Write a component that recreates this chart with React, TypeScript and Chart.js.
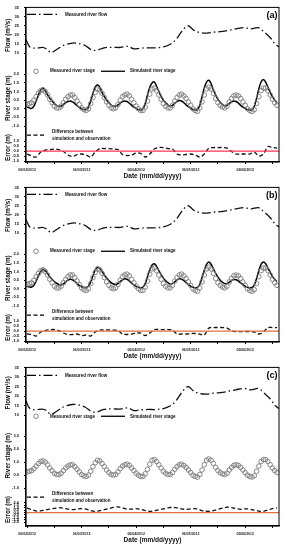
import React, { useEffect, useRef } from 'react';
import { Chart, registerables } from 'chart.js';

Chart.register(...registerables);

const FONT = '"Liberation Sans", Arial, sans-serif';

// ---------- data ----------
const dateLabels = ['06/02/2012', '06/03/2012', '06/04/2012', '06/05/2012', '06/06/2012'];
const xTickDays = [0, 0.5, 1, 1.5, 2, 2.5, 3, 3.5, 4, 4.5];

// Measured river flow (m3/s), x in days since 06/02/2012
const flowDays = [-0.02, 0.05, 0.15, 0.28, 0.35, 0.44, 0.55, 0.68, 0.83, 0.94, 1.06, 1.19, 1.28, 1.41, 1.56, 1.71, 1.85, 1.96, 2.07, 2.22, 2.37, 2.5, 2.62, 2.73, 2.84, 2.95, 3.06, 3.17, 3.3, 3.41, 3.54, 3.69, 3.83, 3.98, 4.11, 4.24, 4.35, 4.46, 4.55, 4.62];
const flowValues = [17.5, 13.5, 12.8, 13.2, 12.5, 10.5, 12.2, 14.5, 15.6, 15.4, 14.3, 11.8, 11.7, 13.0, 13.3, 13.2, 13.8, 12.4, 12.8, 13.0, 13.0, 13.5, 14.8, 17.5, 22, 25, 22.5, 21.3, 21.0, 21.5, 21.8, 22.5, 23.3, 24.0, 23.3, 24.0, 21.5, 18.5, 15.0, 13.5];

// Hourly measured river stage (m), hour 0 = 06/02/2012 00:00
const measuredStage = [
  0.25, 0.3, 0.35, 0.5, 0.7, 0.9, 1.05, 1.1, 1.0, 0.8, 0.55, 0.35, 0.15, 0.05, 0.05, 0.15, 0.35, 0.55, 0.7, 0.8, 0.8, 0.65, 0.45, 0.25,
  0.05, -0.05, -0.1, 0.0, 0.3, 0.65, 0.95, 1.15, 1.1, 0.9, 0.65, 0.4, 0.2, 0.05, 0.0, 0.05, 0.25, 0.5, 0.7, 0.8, 0.85, 0.75, 0.55, 0.35,
  0.15, 0.0, -0.1, -0.1, 0.1, 0.45, 0.85, 1.15, 1.2, 1.05, 0.8, 0.55, 0.3, 0.15, 0.05, 0.05, 0.2, 0.45, 0.65, 0.8, 0.85, 0.75, 0.6, 0.4,
  0.2, 0.0, -0.1, -0.15, 0.05, 0.4, 0.8, 1.15, 1.25, 1.15, 0.9, 0.6, 0.35, 0.2, 0.1, 0.05, 0.15, 0.4, 0.6, 0.75, 0.8, 0.75, 0.6, 0.4,
  0.2, 0.0, -0.1, -0.15, -0.05, 0.3, 0.7, 1.05, 1.2, 1.2, 1.05, 0.8, 0.55, 0.35, 0.2,
];

// Hourly simulated river stage (m), panel (a)
const simStageA = [
  0.1, 0.05, 0.02, 0.15, 0.45, 0.8, 1.1, 1.2, 1.05, 0.8, 0.6, 0.45, 0.3, 0.2, 0.15, 0.15, 0.25, 0.35, 0.42, 0.45, 0.4, 0.3, 0.18, 0.08,
  0.0, -0.05, -0.05, 0.1, 0.45, 0.9, 1.25, 1.4, 1.25, 0.95, 0.7, 0.5, 0.35, 0.22, 0.15, 0.15, 0.22, 0.33, 0.42, 0.45, 0.42, 0.32, 0.2, 0.1,
  0.02, -0.05, -0.08, 0.0, 0.3, 0.8, 1.25, 1.5, 1.55, 1.3, 1.0, 0.72, 0.5, 0.35, 0.22, 0.15, 0.2, 0.32, 0.42, 0.48, 0.45, 0.35, 0.22, 0.12,
  0.03, -0.05, -0.08, -0.05, 0.2, 0.7, 1.2, 1.55, 1.65, 1.45, 1.1, 0.8, 0.55, 0.38, 0.25, 0.18, 0.2, 0.3, 0.4, 0.45, 0.42, 0.33, 0.2, 0.1,
  0.02, -0.05, -0.08, -0.05, 0.15, 0.6, 1.15, 1.55, 1.7, 1.55, 1.25, 0.95, 0.7, 0.5, 0.35,
];

// Hourly simulated river stage (m), panel (b)
const simStageB = [
  0.15, 0.1, 0.1, 0.2, 0.45, 0.75, 1.0, 1.13, 1.05, 0.88, 0.7, 0.55, 0.42, 0.32, 0.25, 0.22, 0.28, 0.4, 0.5, 0.55, 0.52, 0.42, 0.3, 0.2,
  0.12, 0.08, 0.08, 0.15, 0.4, 0.75, 1.1, 1.25, 1.18, 1.0, 0.8, 0.62, 0.48, 0.36, 0.28, 0.25, 0.3, 0.42, 0.52, 0.58, 0.55, 0.45, 0.33, 0.22,
  0.14, 0.08, 0.05, 0.1, 0.3, 0.7, 1.1, 1.38, 1.45, 1.3, 1.05, 0.82, 0.62, 0.46, 0.35, 0.28, 0.3, 0.4, 0.52, 0.58, 0.56, 0.47, 0.35, 0.24,
  0.15, 0.08, 0.05, 0.08, 0.25, 0.65, 1.08, 1.42, 1.55, 1.42, 1.15, 0.9, 0.68, 0.5, 0.38, 0.3, 0.3, 0.38, 0.48, 0.53, 0.52, 0.45, 0.34, 0.24,
  0.15, 0.08, 0.05, 0.08, 0.22, 0.6, 1.05, 1.42, 1.55, 1.45, 1.2, 0.95, 0.72, 0.55, 0.42,
];

// 2-hourly difference between simulation and observation (m)
const errorA = [
  -0.3, -0.5, -0.6, -0.1, 0.1, 0.15, 0.2, 0.15, -0.05, -0.4, -0.55, -0.35,
  -0.3, -0.4, -0.6, -0.1, 0.25, 0.25, 0.25, 0.2, 0.15, -0.35, -0.45, -0.4,
  -0.2, -0.25, -0.6, -0.3, 0.2, 0.35, 0.35, 0.25, 0.2, -0.3, -0.4, -0.35,
  -0.3, -0.4, -0.6, -0.3, 0.3, 0.35, 0.35, 0.35, 0.3, -0.05, -0.3, -0.3,
  -0.3, -0.3, -0.1, -0.5, -0.3, 0.45, 0.35, 0.3,
];
const errorB = [
  -0.3, -0.35, -0.5, -0.1, 0.05, 0.12, 0.15, 0.05, -0.2, -0.35, -0.35, -0.3,
  -0.45, -0.4, -0.5, -0.1, 0.1, 0.1, 0.12, 0.1, 0.05, -0.3, -0.35, -0.3,
  -0.2, -0.2, -0.45, -0.2, 0.15, 0.15, 0.15, 0.15, 0.1, -0.3, -0.3, -0.3,
  -0.25, -0.25, -0.3, -0.4, 0.3, 0.35, 0.35, 0.35, 0.3, 0.0, -0.05, -0.05,
  -0.05, -0.05, -0.1, -0.3, -0.1, 0.35, 0.35, 0.35,
];
const errorC = [
  0.9, 0.6, 0.3, 0.35, 0.55, 0.7, 0.85, 1.0, 0.9, 0.7, 0.6, 0.7,
  0.8, 0.7, 0.4, 0.25, 0.4, 0.6, 0.8, 1.05, 1.15, 0.95, 0.7, 0.7,
  0.8, 0.65, 0.4, 0.25, 0.35, 0.55, 0.75, 0.95, 1.1, 0.95, 0.75, 0.65,
  0.75, 0.8, 0.55, 0.3, 0.25, 0.4, 0.65, 0.9, 1.1, 1.0, 0.8, 0.65,
  0.75, 0.7, 0.5, 0.3, 0.25, 0.5, 0.8, 0.95,
];
const zeroLine = [0, 0];

const flowTicks = [10, 15, 20, 25, 30, 35];
const stageTicksAB = [-1, -0.5, 0, 0.5, 1, 1.5, 2];
const stageTicksC = [-1, 0, 1, 2, 3];
const errorTicksAB = [-1, -0.5, 0, 0.5, 1];
const errorTicksC = [-2, -1.5, -1, -0.5, 0, 0.5, 1, 1.5, 2];

// ---------- layout / style config ----------
const PANELS = [
  {
    tag: '(a)', height: 180, sim: simStageA, err: errorA, zeroColor: '#ff3355', showSim: true,
    flow: { min: 4.6, max: 35, w: 56 },
    stage: { min: -1.41, max: 2.64, w: 70, ticks: stageTicksAB },
    error: { min: -1.1, max: 1.8, w: 29, ticks: errorTicksAB },
    leg: { flow: 7, stage: 8, error: 2 },
  },
  {
    tag: '(b)', height: 180, sim: simStageB, err: errorB, zeroColor: '#e0703c', showSim: true,
    flow: { min: 4.6, max: 35, w: 56 },
    stage: { min: -1.41, max: 2.64, w: 70, ticks: stageTicksAB },
    error: { min: -1.1, max: 1.8, w: 29, ticks: errorTicksAB },
    leg: { flow: 7, stage: 8, error: 2 },
  },
  {
    tag: '(c)', height: 184, sim: [] as number[], err: errorC, zeroColor: '#e0703c', showSim: false,
    flow: { min: 8.4, max: 35, w: 51 },
    stage: { min: -1.38, max: 4.38, w: 75, ticks: stageTicksC },
    error: { min: -2.75, max: 3.98, w: 33, ticks: errorTicksC },
    leg: { flow: 8, stage: -2, error: 4 },
  },
];

const FLOW_DASH = [9, 3, 1.5, 3];
const ERR_DASH = [4, 2.5];
const X_MIN = -0.02;
const X_MAX = 4.62;
const CIRCLE_COLOR = '#7c7c7c';

type PanelCfg = typeof PANELS[number];

function decorPlugin(cfg: PanelCfg) {
  return {
    id: 'decor',
    afterDraw(chart: any) {
      const ctx = chart.ctx as CanvasRenderingContext2D;
      const a = chart.chartArea;
      const sF = chart.scales.yFlow;
      const sS = chart.scales.yStage;
      const sE = chart.scales.yErr;
      const ds = chart.data.datasets;
      ctx.save();
      ctx.strokeStyle = '#000';
      ctx.lineWidth = 1;
      ctx.strokeRect(a.left, a.top, a.right - a.left, a.bottom - a.top);

      ctx.fillStyle = '#111';
      ctx.textBaseline = 'middle';
      ctx.textAlign = 'left';
      ctx.font = `bold 4.5px ${FONT}`;

      // flow legend
      let y = sF.top + cfg.leg.flow;
      ctx.lineWidth = 1.3;
      ctx.setLineDash(FLOW_DASH);
      ctx.beginPath();
      ctx.moveTo(a.left + 1, y);
      ctx.lineTo(a.left + 33, y);
      ctx.stroke();
      ctx.setLineDash([]);
      ctx.fillText(ds[0].label, a.left + 39, y);

      // stage legend
      y = sS.top + cfg.leg.stage;
      ctx.strokeStyle = CIRCLE_COLOR;
      ctx.lineWidth = 0.9;
      ctx.beginPath();
      ctx.arc(a.left + 10, y, 2.3, 0, Math.PI * 2);
      ctx.stroke();
      ctx.fillText(ds[1].label, a.left + 24, y);
      ctx.strokeStyle = '#000';
      ctx.lineWidth = 1.3;
      ctx.beginPath();
      ctx.moveTo(a.left + 75, y);
      ctx.lineTo(a.left + 99, y);
      ctx.stroke();
      ctx.fillText(ds[2].label, a.left + 104, y);

      // error legend
      y = sE.top + cfg.leg.error;
      ctx.lineWidth = 1.3;
      ctx.setLineDash(ERR_DASH);
      ctx.beginPath();
      ctx.moveTo(a.left + 1, y);
      ctx.lineTo(a.left + 19, y);
      ctx.stroke();
      ctx.setLineDash([]);
      ctx.fillText('Difference between', a.left + 26, y - 3.2);
      ctx.fillText('simulation and observation', a.left + 26, y + 3.2);

      // panel tag
      ctx.font = `bold 9px ${FONT}`;
      ctx.fillStyle = '#000';
      ctx.textAlign = 'right';
      ctx.fillText(cfg.tag, a.right - 1.5, a.top + 8);
      ctx.restore();
    },
  };
}

function yAxis(opts: { min: number; max: number; w: number; ticks: number[]; title: string; weight: number; decimals: number }) {
  return {
    type: 'linear' as const,
    position: 'left' as const,
    stack: 'panel',
    stackWeight: opts.w,
    weight: opts.weight,
    min: opts.min,
    max: opts.max,
    afterBuildTicks: (scale: any) => {
      scale.ticks = opts.ticks.map((v) => ({ value: v }));
    },
    afterFit: (scale: any) => {
      scale.width = 24;
    },
    ticks: {
      autoSkip: false,
      font: { size: 4, weight: 'bold' as const, family: FONT },
      color: '#111',
      padding: 5,
      callback: (v: any) => Number(v).toFixed(opts.decimals),
    },
    grid: { drawOnChartArea: false, drawTicks: true, tickLength: 2, color: '#000' },
    border: { display: true, color: '#000', width: 1.2 },
    title: {
      display: true,
      text: opts.title,
      color: '#111',
      font: { size: 6.3, weight: 'bold' as const, family: FONT },
      padding: { top: 2, bottom: 0 },
    },
  };
}

function Panel({ cfg }: { cfg: PanelCfg }) {
  const ref = useRef<HTMLCanvasElement | null>(null);
  useEffect(() => {
    if (!ref.current) return;
    const hourly = (arr: number[], stepHours: number) => arr.map((v, i) => ({ x: (i * stepHours) / 24, y: v }));
    const chart = new Chart(ref.current, {
      type: 'line',
      data: {
        datasets: [
          {
            label: 'Measured river flow',
            data: flowDays.map((d, i) => ({ x: d, y: flowValues[i] })),
            yAxisID: 'yFlow',
            borderColor: '#111',
            borderWidth: 1.3,
            borderDash: FLOW_DASH,
            pointRadius: 0,
            tension: 0.35,
            fill: false,
          },
          {
            label: 'Measured river stage',
            data: hourly(measuredStage, 1),
            yAxisID: 'yStage',
            showLine: false,
            pointStyle: 'circle',
            pointRadius: 2.3,
            pointBorderWidth: 0.9,
            pointBorderColor: CIRCLE_COLOR,
            pointBackgroundColor: 'rgba(255,255,255,0)',
            borderColor: CIRCLE_COLOR,
          },
          {
            label: 'Simulated river stage',
            data: cfg.showSim ? hourly(cfg.sim, 1) : [],
            yAxisID: 'yStage',
            borderColor: '#000',
            borderWidth: 1.5,
            pointRadius: 0,
            tension: 0.4,
            fill: false,
          },
          {
            label: 'zero',
            data: [
              { x: X_MIN, y: zeroLine[0] },
              { x: X_MAX, y: zeroLine[1] },
            ],
            yAxisID: 'yErr',
            borderColor: cfg.zeroColor,
            borderWidth: 1.2,
            pointRadius: 0,
            fill: false,
          },
          {
            label: 'Difference between simulation and observation',
            data: hourly(cfg.err, 2),
            yAxisID: 'yErr',
            borderColor: '#111',
            borderWidth: 1.3,
            borderDash: ERR_DASH,
            pointRadius: 0,
            tension: 0.3,
            fill: false,
          },
        ],
      },
      options: {
        animation: false,
        responsive: false,
        maintainAspectRatio: false,
        devicePixelRatio: 1,
        layout: { padding: { left: 2, right: 5, top: 7, bottom: 0 } },
        plugins: { legend: { display: false }, tooltip: { enabled: false } },
        scales: {
          x: {
            type: 'linear',
            min: X_MIN,
            max: X_MAX,
            afterBuildTicks: (scale: any) => {
              scale.ticks = xTickDays.map((v) => ({ value: v }));
            },
            afterFit: (scale: any) => {
              scale.height = 18;
            },
            ticks: {
              autoSkip: false,
              maxRotation: 0,
              padding: 4,
              font: { size: 3.5, weight: 'bold', family: FONT },
              color: '#222',
              callback: (v: any) => (Number.isInteger(Number(v)) ? dateLabels[Number(v)] : ''),
            },
            grid: { drawOnChartArea: false, drawTicks: true, tickLength: 2, color: '#000' },
            border: { display: true, color: '#000', width: 1.2 },
            title: {
              display: true,
              text: 'Date (mm/dd/yyyy)',
              color: '#111',
              font: { size: 6.5, weight: 'bold', family: FONT },
              padding: { top: 1, bottom: 0 },
            },
          },
          yFlow: yAxis({ ...cfg.flow, ticks: flowTicks, title: 'Flow (m³/s)', weight: 3, decimals: 0 }),
          yStage: yAxis({ ...cfg.stage, title: 'River stage (m)', weight: 2, decimals: 1 }),
          yErr: yAxis({ ...cfg.error, title: 'Error (m)', weight: 1, decimals: 1 }),
        } as any,
      },
      plugins: [decorPlugin(cfg)],
    });
    return () => chart.destroy();
  }, [cfg]);
  return (
    <div style={{ width: 284, height: cfg.height }}>
      <canvas ref={ref} width={284} height={cfg.height} style={{ display: 'block', width: 284, height: cfg.height }} />
    </div>
  );
}

export default function App() {
  return (
    <div style={{ position: 'absolute', left: 0, top: 0, width: 284, height: 550, background: '#fff' }}>
      {PANELS.map((p) => (
        <Panel key={p.tag} cfg={p} />
      ))}
    </div>
  );
}
